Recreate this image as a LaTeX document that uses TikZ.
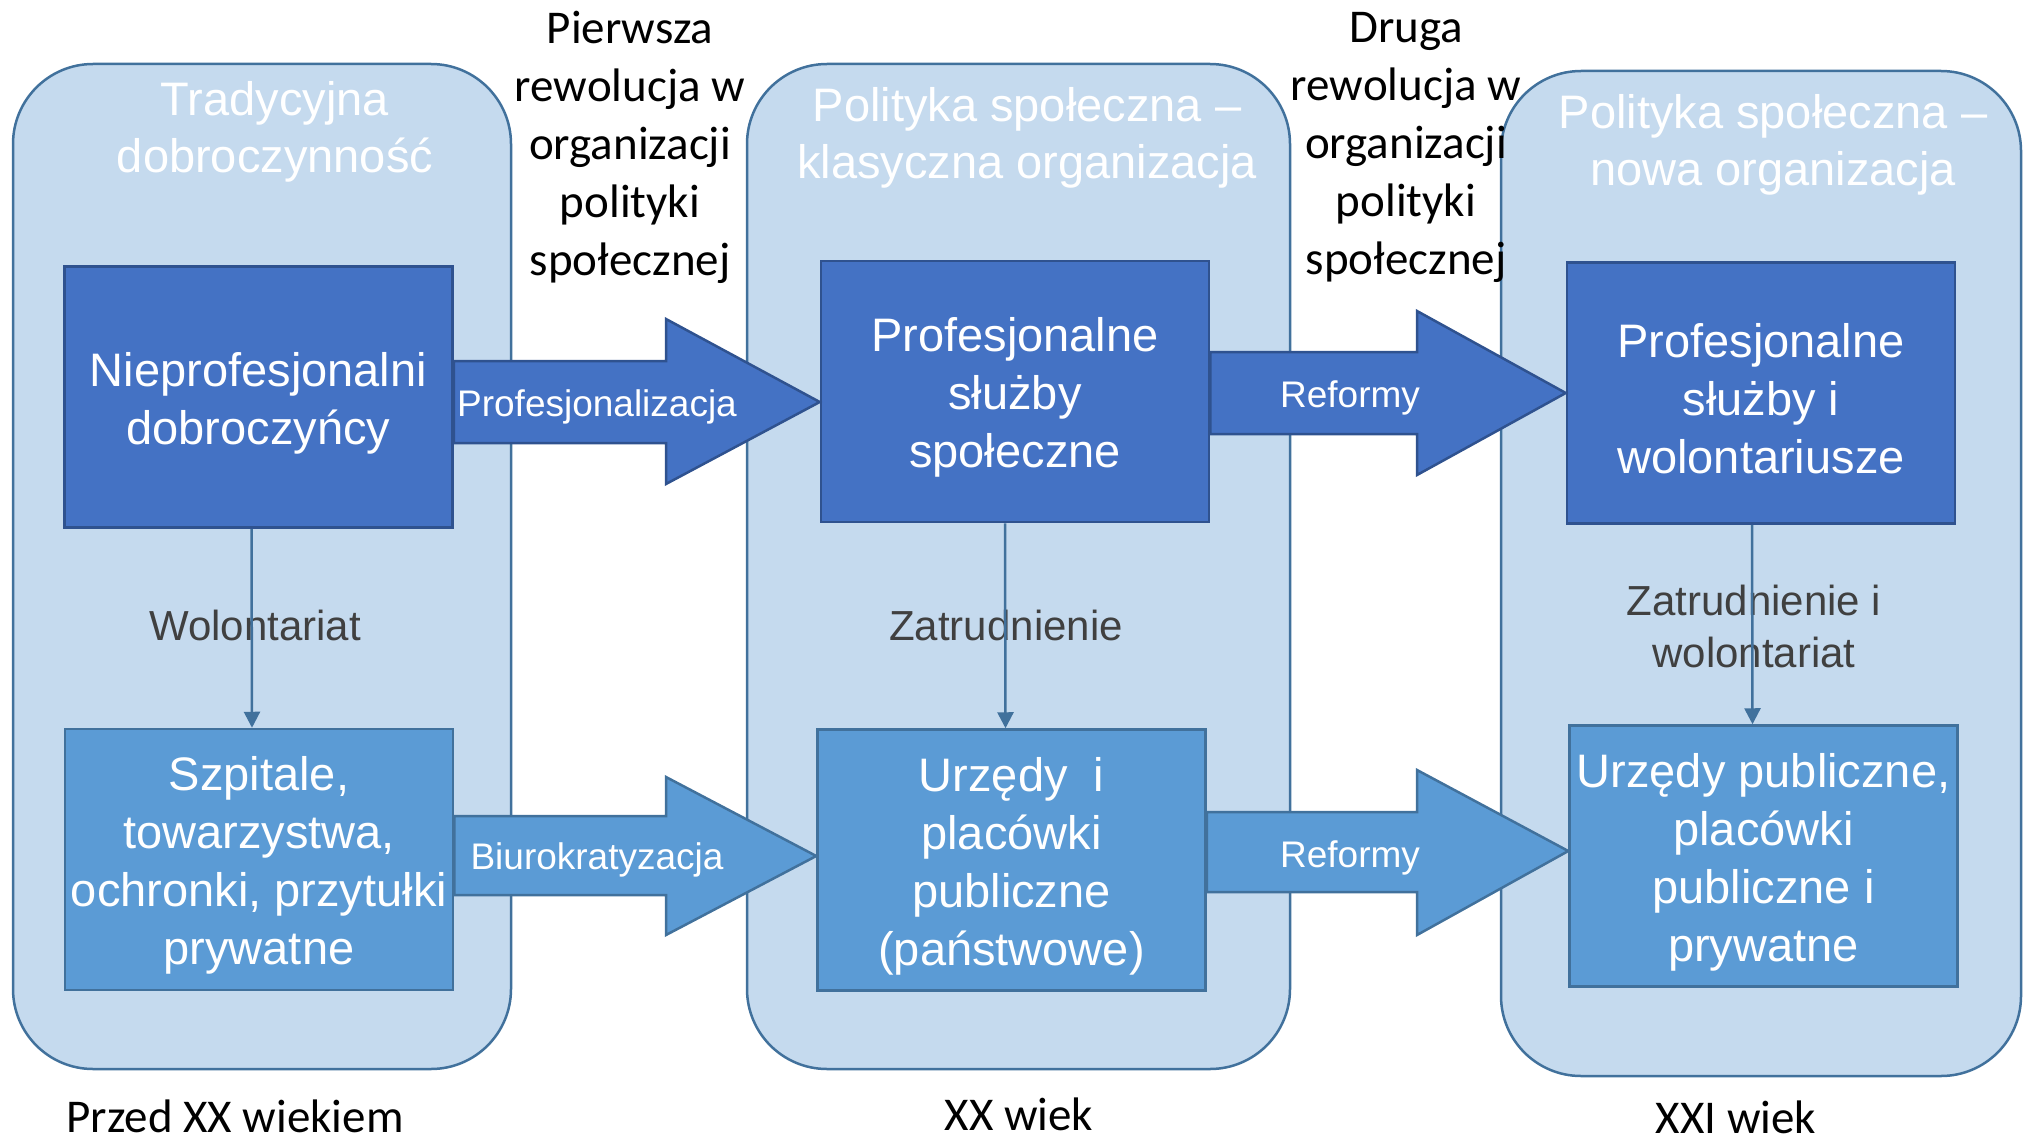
\documentclass[tikz,border=0pt]{standalone}
\usepackage{fontspec}
\setmainfont{Liberation Sans}
\newfontfamily\calib{Carlito}
\usetikzlibrary{arrows.meta,calc}
\definecolor{panelfill}{HTML}{C5DAEE}
\definecolor{panelline}{HTML}{41719C}
\definecolor{darkblue}{HTML}{4472C4}
\definecolor{darkline}{HTML}{2F528F}
\definecolor{midblue}{HTML}{5B9BD5}
\definecolor{labelgrey}{HTML}{404040}
\begin{document}
\begin{tikzpicture}[x=1pt,y=-1pt,
  panel/.style={draw=panelline, fill=panelfill, line width=2.5pt, rounded corners=80pt, inner sep=0pt},
  topbox/.style={draw=darkline, fill=darkblue, line width=2.5pt, minimum width=388pt, minimum height=261pt, inner sep=0pt},
  lowbox/.style={draw=panelline, fill=midblue, line width=2.5pt, minimum width=388pt, minimum height=261pt, inner sep=0pt},
  boxtxt/.style={text=white, align=center, font=\fontsize{47}{58}\selectfont, inner sep=0pt},
  hdr/.style={text=white, align=center, font=\fontsize{47}{57}\selectfont, inner sep=0pt},
  revlabel/.style={align=center, font=\calib\fontsize{47}{58}\selectfont, inner sep=0pt},
  arrlabel/.style={text=white, font=\fontsize{37}{44}\selectfont, inner sep=0pt},
  connlabel/.style={text=labelgrey, align=center, font=\fontsize{42}{52}\selectfont, inner sep=0pt},
  conn/.style={draw=panelline, line width=2.5pt, -{Triangle[length=16pt,width=16pt]}},
  arrowdark/.style={draw=darkline, fill=darkblue, line width=2.5pt, line join=miter},
  arrowmid/.style={draw=panelline, fill=midblue, line width=2.5pt, line join=miter}
]
\useasboundingbox (0,0) rectangle (2023,1142);

% panels
\node[panel, minimum width=498pt, minimum height=1005pt] (p1) at (262,566.5) {};
\node[panel, minimum width=543pt, minimum height=1005pt] (p2) at (1018.5,566.5) {};
\node[panel, minimum width=520pt, minimum height=1005pt] (p3) at (1761,573.5) {};

% panel headers
\node[hdr] (h1) at (275,132) {Tradycyjna\\dobroczynność};
\node[hdr] (h2) at (1027,138) {Polityka społeczna –\\klasyczna organizacja};
\node[hdr] (h3) at (1773,145) {Polityka społeczna –\\nowa organizacja};

% revolution labels
\node[revlabel] (r1) at (630,147) {Pierwsza\\rewolucja w\\organizacji\\polityki\\społecznej};
\node[revlabel] (r2) at (1406,147) {Druga\\rewolucja w\\organizacji\\polityki\\społecznej};

% boxes
\node[topbox] (b1) at (258.5,397) {};
\node[topbox] (b2) at (1015,391.5) {};
\node[topbox] (b3) at (1761,393) {};
\node[lowbox] (b4) at (259,859.5) {};
\node[lowbox] (b5) at (1011.5,860) {};
\node[lowbox] (b6) at (1763.5,856) {};
\node[boxtxt] (t1) at ([yshift=-6pt]b1.center) {Nieprofesjonalni\\dobroczyńcy};
\node[boxtxt] (t2) at ([yshift=-6pt]b2.center) {Profesjonalne\\służby\\społeczne};
\node[boxtxt] (t3) at ([yshift=-6pt]b3.center) {Profesjonalne\\służby i\\wolontariusze};
\node[boxtxt] (t4) at ([yshift=-6pt]b4.center) {Szpitale,\\towarzystwa,\\ochronki, przytułki\\prywatne};
\node[boxtxt] (t5) at ([yshift=-6pt]b5.center) {Urzędy\ \ i\\placówki\\publiczne\\(państwowe)};
\node[boxtxt] (t6) at ([yshift=-6pt]b6.center) {Urzędy publiczne,\\placówki\\publiczne i\\prywatne};

% block arrows
\draw[arrowdark] (b1.east |- 0,361) -- (666,361) -- (666,319) -- (b2.west |- 0,402) -- (666,484) -- (666,443) -- (b1.east |- 0,443) -- cycle;
\draw[arrowmid] (b4.east |- 0,816) -- (666,816) -- (666,777) -- (b5.west |- 0,856) -- (666,935) -- (666,895) -- (b4.east |- 0,895) -- cycle;
\draw[arrowdark] (b2.east |- 0,352) -- (1417,352) -- (1417,311) -- (b3.west |- 0,393) -- (1417,475) -- (1417,434) -- (b2.east |- 0,434) -- cycle;
\draw[arrowmid] (b5.east |- 0,812) -- (1417,812) -- (1417,770) -- (b6.west |- 0,851) -- (1417,935) -- (1417,892) -- (b5.east |- 0,892) -- cycle;

\node[arrlabel] (a1) at (597,407) {Profesjonalizacja};
\node[arrlabel] (a2) at (597,860) {Biurokratyzacja};
\node[arrlabel] (a3) at (1350,398) {Reformy};
\node[arrlabel] (a4) at (1350,858) {Reformy};

% vertical connectors
\node[connlabel] (c1) at (255,625) {Wolontariat};
\node[connlabel] (c2) at (1006,625) {Zatrudnienie};
\node[connlabel] (c3) at (1754,626) {Zatrudnienie i\\wolontariat};
\draw[conn] ([xshift=-7pt]b1.south) -- ([xshift=-7pt]b4.north);
\draw[conn] ([xshift=-10pt]b2.south) -- ([xshift=-6pt]b5.north);
\draw[conn] ([xshift=-9pt]b3.south) -- ([xshift=-11pt]b6.north);

% era labels
\node[revlabel] (e1) at (235,1116) {Przed XX wiekiem};
\node[revlabel] (e2) at (1019,1114) {XX wiek};
\node[revlabel] (e3) at (1736,1117) {XXI wiek};
\end{tikzpicture}
\end{document}
